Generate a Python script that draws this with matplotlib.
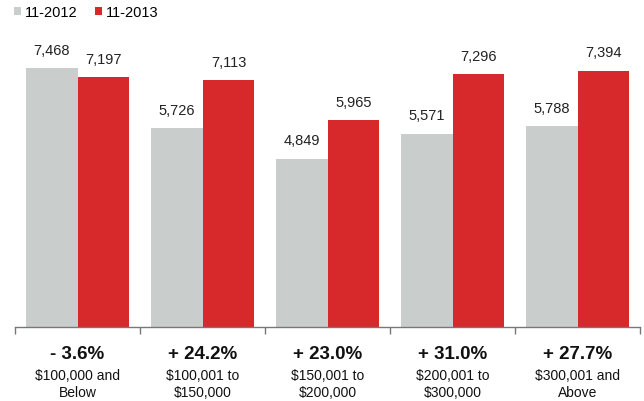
import matplotlib.pyplot as plt
import numpy as np

plt.rcParams["font.family"] = ["Liberation Sans", "DejaVu Sans"]

series_names = ["11-2012", "11-2013"]
values_2012 = [7468, 5726, 4849, 5571, 5788]
values_2013 = [7197, 7113, 5965, 7296, 7394]
changes = ["- 3.6%", "+ 24.2%", "+ 23.0%", "+ 31.0%", "+ 27.7%"]
categories = ["$100,000 and\nBelow", "$100,001 to\n$150,000", "$150,001 to\n$200,000",
              "$200,001 to\n$300,000", "$300,001 and\nAbove"]

gray = "#c9cecd"
red = "#d7282b"

fig = plt.figure(figsize=(6.44, 4.02), dpi=100)
ax = fig.add_axes([15 / 644, 74 / 402, 625 / 644, 318 / 402])

x = np.arange(len(categories))
width = 0.415
bars_a = ax.bar(x + 0.5 - width / 2, values_2012, width, color=gray, label=series_names[0])
bars_b = ax.bar(x + 0.5 + width / 2, values_2013, width, color=red, label=series_names[1])

for bar, val in zip(list(bars_a) + list(bars_b), values_2012 + values_2013):
    ax.text(bar.get_x() + bar.get_width() / 2, val + 330, f"{val:,}",
            ha="center", va="bottom", fontsize=10.5, color="#222222")

ax.set_xlim(0, len(categories))
ax.set_ylim(0, 9170)
ax.set_yticks([])
for side in ["top", "right", "left"]:
    ax.spines[side].set_visible(False)
ax.spines["bottom"].set_color("#777777")
ax.spines["bottom"].set_linewidth(1.0)
ax.set_xticks(np.arange(len(categories) + 1))
ax.set_xticklabels([])
ax.tick_params(axis="x", length=5, color="#777777", width=1.0)

for i, (chg, cat) in enumerate(zip(changes, categories)):
    ax.text(i + 0.5, -520, chg, ha="center", va="top", fontsize=13.5, fontweight="bold",
            color="#111111", clip_on=False)
    ax.text(i + 0.5, -1180, cat, ha="center", va="top", fontsize=10, color="#111111",
            linespacing=1.3, clip_on=False)

fig.legend(handles=[bars_a, bars_b], labels=series_names, loc="center left",
           bbox_to_anchor=(14 / 644, 1 - 13 / 402), ncol=2, frameon=False, borderpad=0,
           borderaxespad=0, fontsize=10.5, handlelength=0.5, handleheight=0.5,
           handletextpad=0.27, columnspacing=1.15)

fig.savefig("out.png", dpi=100)
